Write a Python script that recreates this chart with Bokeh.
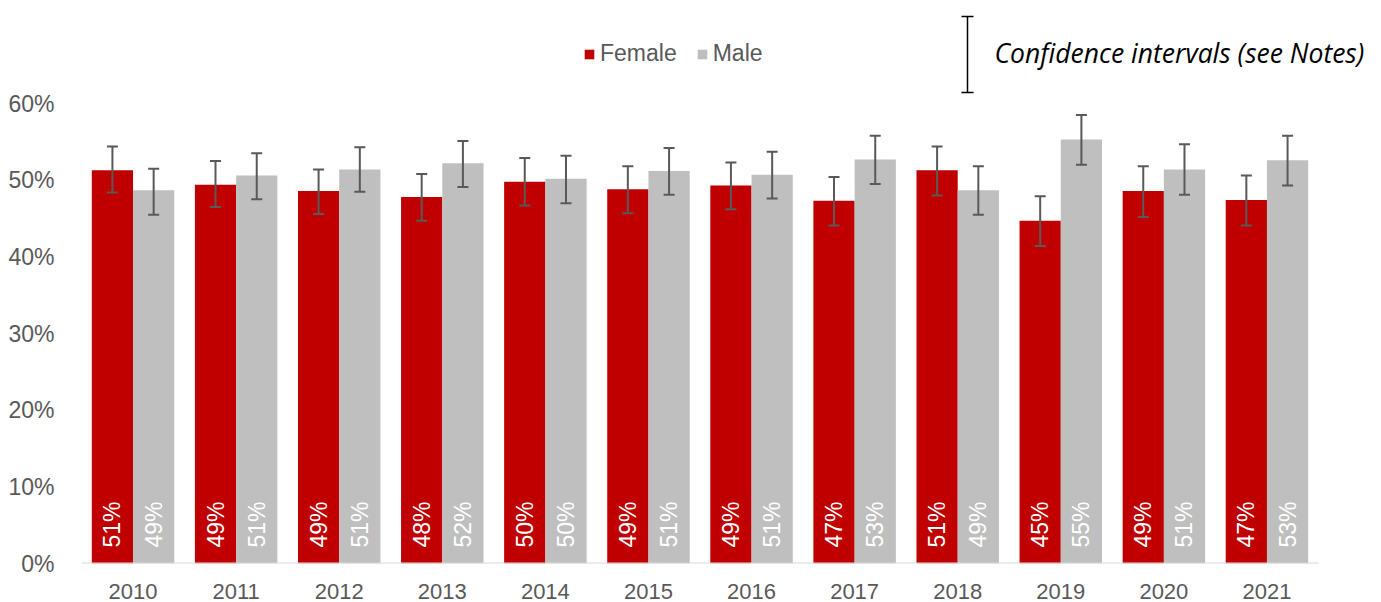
import math

from bokeh.core.properties import value
from bokeh.embed import file_html
from bokeh.models import (ColumnDataSource, FixedTicker, Label, Legend, LegendItem,
                          PrintfTickFormatter, Range1d, TeeHead, Whisker)
from bokeh.plotting import figure
from bokeh.resources import INLINE

# Share of respondents by sex, per survey year (percent)
years = ["2010", "2011", "2012", "2013", "2014", "2015",
         "2016", "2017", "2018", "2019", "2020", "2021"]
female = [51.3, 49.4, 48.6, 47.8, 49.8, 48.8, 49.3, 47.3, 51.3, 44.7, 48.6, 47.4]
male = [48.7, 50.6, 51.4, 52.2, 50.2, 51.2, 50.7, 52.7, 48.7, 55.3, 51.4, 52.6]

# 95% confidence interval bounds (percent)
female_lo = [48.4, 46.5, 45.6, 44.7, 46.7, 45.7, 46.2, 44.1, 48.0, 41.4, 45.2, 44.1]
female_hi = [54.4, 52.5, 51.4, 50.8, 52.9, 51.8, 52.3, 50.4, 54.4, 47.9, 51.8, 50.6]
male_lo = [45.5, 47.5, 48.5, 49.1, 47.0, 48.1, 47.6, 49.5, 45.5, 52.0, 48.1, 49.3]
male_hi = [51.5, 53.5, 54.3, 55.1, 53.2, 54.2, 53.7, 55.8, 51.8, 58.5, 54.7, 55.8]

y_ticks = [0, 10, 20, 30, 40, 50, 60]

RED = "#C00000"
GREY = "#BFBFBF"
TEXT = "#595959"
FONT = "Liberation Sans"
SIZE = "23px"

n = len(years)
centers = [i + 0.5 for i in range(n)]
bar_w = 0.4

src = ColumnDataSource(dict(
    xf=[c - bar_w / 2 for c in centers],
    xm=[c + bar_w / 2 for c in centers],
    female=female, male=male,
    f_lo=female_lo, f_hi=female_hi,
    m_lo=male_lo, m_hi=male_hi,
    f_lab=[f"{round(v)}%" for v in female],
    m_lab=[f"{round(v)}%" for v in male],
))

# Plot frame: 0% sits at 563 px, 60% at 103 px; headroom above holds the key
px_per_pct = (563 - 103) / 60.0
px_per_cat = (1318 - 81) / n
p = figure(width=1381, height=602, output_backend="svg", toolbar_location=None,
           x_range=Range1d(0, (1381 - 81) / px_per_cat),
           y_range=Range1d(0, 563 / px_per_pct),
           min_border_left=81, min_border_right=0, min_border_top=0,
           min_border_bottom=39)
p.outline_line_color = None
p.xgrid.visible = False
p.ygrid.visible = False
p.background_fill_color = "white"
p.border_fill_color = "white"

rf = p.vbar(x="xf", top="female", width=bar_w, bottom=0, source=src,
            fill_color=RED, line_color=None)
rm = p.vbar(x="xm", top="male", width=bar_w, bottom=0, source=src,
            fill_color=GREY, line_color=None)

# Baseline across the twelve categories
p.segment(x0=[0], y0=[0], x1=[n], y1=[0], line_color="#D9D9D9", line_width=2)

# Confidence interval whiskers
for base, lo, hi in (("xf", "f_lo", "f_hi"), ("xm", "m_lo", "m_hi")):
    w = Whisker(source=src, base=base, lower=lo, upper=hi, level="overlay",
                line_color=TEXT, line_width=2,
                upper_head=TeeHead(size=11, line_color=TEXT, line_width=2),
                lower_head=TeeHead(size=11, line_color=TEXT, line_width=2))
    p.add_layout(w)

# Value labels, rotated, at the foot of each bar
for xcol, lab in (("xf", "f_lab"), ("xm", "m_lab")):
    p.text(x=xcol, y=0, text=lab, source=src, angle=math.pi / 2, y_offset=-16,
           text_align="left", text_baseline="middle", text_color="white",
           text_font=value(FONT), text_font_size=SIZE)

# Axes
p.yaxis.ticker = FixedTicker(ticks=y_ticks)
p.yaxis.formatter = PrintfTickFormatter(format="%d%%")
p.yaxis.axis_line_color = None
p.yaxis.major_tick_line_color = None
p.yaxis.minor_tick_line_color = None
p.yaxis.major_label_standoff = 21
p.yaxis.major_label_text_font = FONT
p.yaxis.major_label_text_font_size = SIZE
p.yaxis.major_label_text_color = TEXT

p.xaxis.ticker = FixedTicker(ticks=centers)
p.xaxis.major_label_overrides = {c: y for c, y in zip(centers, years)}
p.xaxis.axis_line_color = None
p.xaxis.major_tick_line_color = None
p.xaxis.minor_tick_line_color = None
p.xaxis.major_label_standoff = 14
p.xaxis.major_label_text_font = FONT
p.xaxis.major_label_text_font_size = "22px"
p.xaxis.major_label_text_color = TEXT

# Series key
legend = Legend(items=[LegendItem(label="Female", renderers=[rf]),
                       LegendItem(label="Male", renderers=[rm])],
                orientation="horizontal", location=(502, 496),
                glyph_width=12, glyph_height=12, label_standoff=5, spacing=19,
                padding=0, margin=0, border_line_color=None,
                background_fill_alpha=0,
                label_text_font=FONT, label_text_font_size=SIZE,
                label_text_color=TEXT)
p.add_layout(legend, "center")

# Confidence interval key
ci_key = ColumnDataSource(dict(x=[(967 - 81) / px_per_cat],
                               lo=[(563 - 92) / px_per_pct],
                               hi=[(563 - 16) / px_per_pct]))
p.add_layout(Whisker(source=ci_key, base="x", lower="lo", upper="hi",
                     level="overlay", line_color="black", line_width=1.5,
                     upper_head=TeeHead(size=12, line_color="black", line_width=1.5),
                     lower_head=TeeHead(size=12, line_color="black", line_width=1.5)))
p.add_layout(Label(x=(994 - 81) / px_per_cat, y=(563 - 52) / px_per_pct,
                   text="Confidence intervals (see Notes)",
                   text_font="Open Sans", text_font_style="italic",
                   text_font_size="26.5px", text_color="black",
                   text_baseline="middle", text_align="left"))

open("out.html", "w").write(file_html(p, INLINE))
